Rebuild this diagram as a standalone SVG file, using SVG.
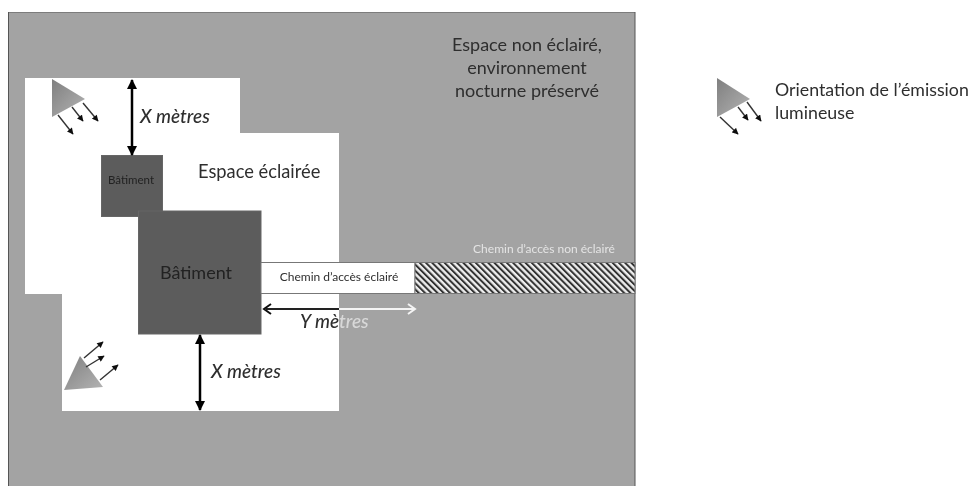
<svg xmlns="http://www.w3.org/2000/svg" width="973" height="486" viewBox="0 0 973 486">
<style>
text{font-family:Lato,"Open Sans","Liberation Sans",sans-serif;fill:#2e2e2e}
.m{text-anchor:middle}
.i{font-style:italic;font-size:19px;font-weight:500}
.b{fill:#5c5c5c;stroke:#666;stroke-width:1}
.dbl{fill:none;stroke:#000;stroke-width:2.5;marker-start:url(#hd);marker-end:url(#hd)}
.ray{fill:none;stroke:#333;stroke-width:1.4;marker-end:url(#hs)}
.tri{fill:url(#g)}
</style>
<defs>
<filter id="soft" x="0" y="0" width="100%" height="100%"><feGaussianBlur stdDeviation="0.5"/></filter>
<marker id="hd" viewBox="0 0 10 10" refX="9" refY="5" markerWidth="4" markerHeight="4" orient="auto-start-reverse" markerUnits="strokeWidth"><path d="M0 0L10 5L0 10Z" fill="#000"/></marker>
<marker id="hs" viewBox="0 0 10 10" refX="9" refY="5" markerWidth="5" markerHeight="4.500" orient="auto" markerUnits="strokeWidth"><path d="M0 0L10 5L0 10Z" fill="#111"/></marker>
<linearGradient id="g" x1="0" y1="0" x2="1" y2="1"><stop offset="0" stop-color="#7f7f7f"/><stop offset="1" stop-color="#b4b4b4"/></linearGradient>
<pattern id="h" width="4.400" height="4.400" patternUnits="userSpaceOnUse" patternTransform="rotate(-45)"><rect width="4.400" height="4.400" fill="#eee"/><rect width="2" height="4.400" fill="#333"/></pattern>
</defs>
<g filter="url(#soft)">
<g id="zone-sombre">
<rect x="8.500" y="12" width="626.500" height="480" fill="#a3a3a3" stroke="#555" stroke-width="1"/>
<text class="m" x="527" y="51" font-size="18">Espace non éclairé,</text>
<text class="m" x="527" y="74" font-size="18">environnement</text>
<text class="m" x="527" y="97" font-size="18">nocturne préservé</text>
</g>
<g id="zone-eclairee">
<path d="M25 78H240V133H339V411H62V294H25Z" fill="#fff"/>
<text x="198" y="178" font-size="18.300">Espace éclairée</text>
</g>
<g id="batiment-petit">
<rect class="b" x="101.500" y="155.500" width="61" height="61"/>
<text class="m" x="131" y="184" font-size="11.500" style="fill:#222">Bâtiment</text>
</g>
<g id="batiment-grand">
<rect class="b" x="138.500" y="211" width="122.500" height="123"/>
<text class="m" x="196" y="279" font-size="18" style="fill:#222">Bâtiment</text>
</g>
<g id="chemin-eclaire">
<rect x="261" y="262.500" width="154" height="31" fill="#fff" stroke="#777" stroke-width="1"/>
<text class="m" x="339" y="281" font-size="12">Chemin d’accès éclairé</text>
</g>
<g id="chemin-non-eclaire">
<rect x="415" y="262.500" width="220" height="31" fill="url(#h)" stroke="#777" stroke-width="1"/>
<text class="m" x="544" y="253" font-size="12" style="fill:#e4e4e4">Chemin d’accès non éclairé</text>
</g>
<g id="connecteurs">
<path class="dbl" d="M132 80V155"/>
<path class="dbl" d="M200 335V410"/>
<path d="M339 309H266" fill="none" stroke="#222" stroke-width="2"/>
<path d="M271 304L264 309L271 314" fill="none" stroke="#111" stroke-width="2"/>
<path d="M339 309H414" fill="none" stroke="#f4f4f4" stroke-width="2"/>
<path d="M408 304L415 309L408 314" fill="none" stroke="#f4f4f4" stroke-width="2"/>
</g>
<g id="label-x-haut"><text class="i" x="140" y="123">X mètres</text></g>
<g id="label-x-bas"><text class="i" x="211" y="378">X mètres</text></g>
<g id="label-y"><text class="i" x="300" y="328">Y mè<tspan style="fill:#d8d8d8">tres</tspan></text></g>
<g id="source-haut">
<path class="tri" d="M52 79L85 99L52 117Z"/>
<path class="ray" d="M58 115L73 134"/><path class="ray" d="M72 107L83 121"/><path class="ray" d="M83 103L98 121"/>
</g>
<g id="source-bas">
<path class="tri" d="M64 390L80 356L103 387Z"/>
<path class="ray" d="M84 358L103 342"/><path class="ray" d="M86 367L104 356"/><path class="ray" d="M100 380L118 365"/>
</g>
<g id="legende">
<path class="tri" d="M717 78L750 99L717 117Z"/>
<path class="ray" d="M720 117L738 134"/><path class="ray" d="M738 107L748 120"/><path class="ray" d="M747 102L761 121"/>
<text x="775" y="96" font-size="17.800">Orientation de l’émission</text>
<text x="775" y="119" font-size="17.800">lumineuse</text>
</g>
</g>
</svg>
